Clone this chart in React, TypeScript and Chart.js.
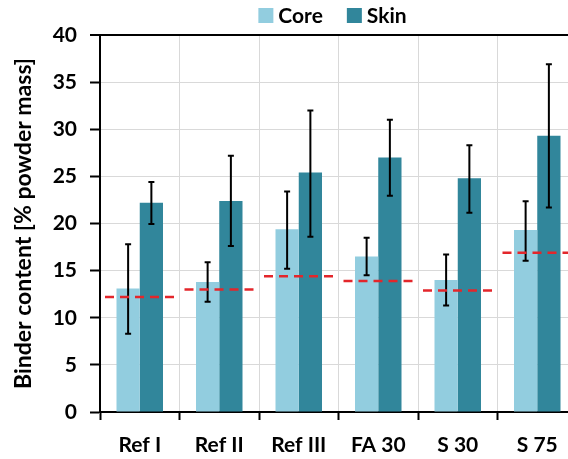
import React, { useEffect, useRef } from "react";
import { Chart, registerables } from "chart.js";

Chart.register(...registerables);

const categories = ["Ref I", "Ref II", "Ref III", "FA 30", "S 30", "S 75"];
const core = [13.1, 13.8, 19.4, 16.5, 14.0, 19.3];
const coreHigh = [17.8, 15.9, 23.4, 18.5, 16.7, 22.35];
const coreLow = [8.3, 11.7, 15.2, 14.5, 11.3, 16.05];
const skin = [22.2, 22.4, 25.4, 27.0, 24.8, 29.3];
const skinHigh = [24.4, 27.2, 32.0, 31.0, 28.3, 36.9];
const skinLow = [19.95, 17.6, 18.6, 22.95, 21.15, 21.7];
const threshold = [12.2, 13.0, 14.4, 13.9, 12.9, 16.9];
const yTicks = [0, 5, 10, 15, 20, 25, 30, 35, 40];

const FONT = "Lato, 'Open Sans', sans-serif";

const overlayPlugin = {
  id: "overlay",
  afterDatasetsDraw(chart: any) {
    const ctx = chart.ctx;
    const y = chart.scales.y;
    const x = chart.scales.x;
    const lows = [coreLow, skinLow];
    const highs = [coreHigh, skinHigh];
    ctx.save();
    for (let d = 0; d < 2; d++) {
      const meta = chart.getDatasetMeta(d);
      meta.data.forEach((bar: any, i: number) => {
        const cx = bar.x;
        const yt = y.getPixelForValue(highs[d][i]);
        const yb = y.getPixelForValue(lows[d][i]);
        ctx.strokeStyle = "#000";
        ctx.lineWidth = 2;
        ctx.setLineDash([]);
        ctx.beginPath();
        ctx.moveTo(cx, yt);
        ctx.lineTo(cx, yb);
        ctx.moveTo(cx - 3, yt);
        ctx.lineTo(cx + 3, yt);
        ctx.moveTo(cx - 3, yb);
        ctx.lineTo(cx + 3, yb);
        ctx.stroke();
      });
    }
    const step = (x.right - x.left) / categories.length;
    threshold.forEach((v, i) => {
      const c = x.getPixelForValue(i);
      const py = y.getPixelForValue(v);
      ctx.strokeStyle = "#e3262b";
      ctx.lineWidth = 2.5;
      ctx.setLineDash([9, 6]);
      ctx.beginPath();
      ctx.moveTo(c - step / 2 + 5, py);
      ctx.lineTo(c + step / 2 - 3, py);
      ctx.stroke();
    });
    ctx.restore();
  },
  afterDraw(chart: any) {
    // legend
    const ctx = chart.ctx;
    const ds = chart.data.datasets;
    ctx.save();
    ctx.font = `bold 21px ${FONT}`;
    ctx.textBaseline = "middle";
    ctx.textAlign = "left";
    const box = 15;
    const gapText = 5;
    const gapItem = 24;
    const widths = ds.map((d: any) => ctx.measureText(d.label).width);
    const total = widths.reduce((a: number, w: number) => a + box + gapText + w, 0) + gapItem * (ds.length - 1);
    const center = (chart.chartArea.left + chart.chartArea.right) / 2 - 6;
    let px = center - total / 2;
    const cy = 15.5;
    ds.forEach((d: any, i: number) => {
      ctx.fillStyle = d.backgroundColor;
      ctx.fillRect(px, cy - box / 2, box, box);
      ctx.fillStyle = "#000";
      ctx.fillText(d.label, px + box + gapText, cy + 1);
      px += box + gapText + widths[i] + gapItem;
    });
    ctx.restore();
  },
};

export default function App() {
  const ref = useRef<HTMLCanvasElement>(null);
  useEffect(() => {
    if (!ref.current) return;
    const chart = new Chart(ref.current, {
      type: "bar",
      data: {
        labels: categories,
        datasets: [
          { label: "Core", data: core, backgroundColor: "#92cddf", borderWidth: 0 },
          { label: "Skin", data: skin, backgroundColor: "#31869b", borderWidth: 0 },
        ],
      },
      plugins: [overlayPlugin],
      options: {
        responsive: false,
        animation: false,
        devicePixelRatio: 1,
        layout: { padding: { left: 0, right: 3, top: 35, bottom: 0 } },
        datasets: { bar: { categoryPercentage: 0.585, barPercentage: 1 } },
        plugins: {
          tooltip: { enabled: false },
          legend: { display: false },
        },
        scales: {
          x: {
            offset: true,
            grid: {
              offset: true,
              color: "#d9d9d9",
              lineWidth: 1,
              tickColor: "#000",
              tickWidth: 2,
              tickLength: 8,
              drawTicks: true,
            },
            border: { color: "#000", width: 2 },
            ticks: {
              color: "#000",
              padding: 13,
              font: { family: FONT, size: 21, weight: "bold" },
            },
            afterFit: (s: any) => {
              s.height = 47;
            },
          },
          y: {
            min: 0,
            max: 40,
            afterBuildTicks: (s: any) => {
              s.ticks = yTicks.map((v) => ({ value: v }));
            },
            grid: {
              color: (c: any) => (c.tick && c.tick.value === 40 ? "#000" : "#d9d9d9"),
              lineWidth: (c: any) => (c.tick && c.tick.value === 40 ? 2 : 1),
              tickColor: "#000",
              tickWidth: 2,
              tickLength: 10,
            },
            border: { color: "#000", width: 2 },
            ticks: {
              color: "#000",
              padding: 13,
              font: { family: FONT, size: 21, weight: "bold" },
            },
            title: {
              display: true,
              text: "Binder content [% powder mass]",
              color: "#000",
              padding: { top: 10, bottom: 0 },
              font: { family: FONT, size: 23, weight: "bold" },
            },
            afterFit: (s: any) => {
              s.width = 100;
            },
          },
        },
      },
    });
    return () => chart.destroy();
  }, []);
  return (
    <div style={{ position: "absolute", left: 0, top: 0, width: 580, height: 459, background: "#fff" }}>
      <canvas ref={ref} width={580} height={459} style={{ width: 580, height: 459 }} />
    </div>
  );
}
